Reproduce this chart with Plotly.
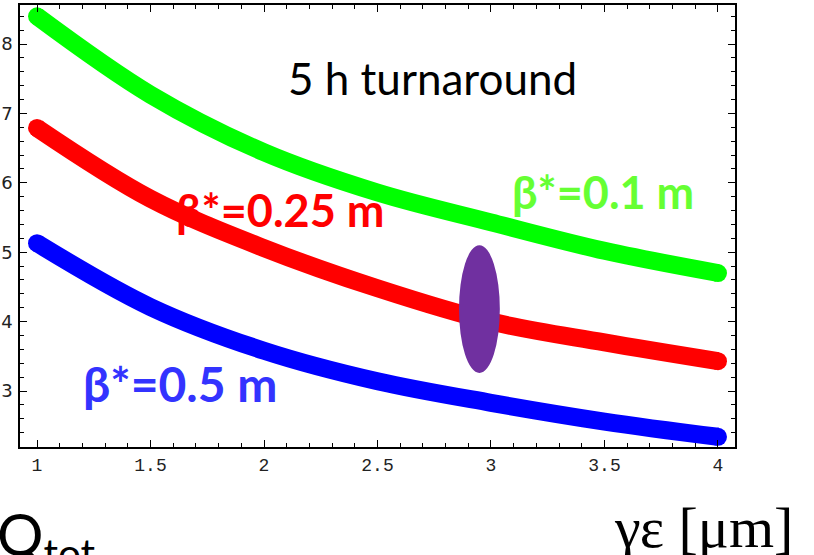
import plotly.graph_objects as go

# ---- data ----
x_vals = [1, 1.5, 2, 2.5, 3, 3.5, 4]
q_beta_01 = [8.40, 7.27, 6.44, 5.86, 5.43, 5.02, 4.70]
q_beta_025 = [6.79, 5.77, 5.06, 4.48, 4.00, 3.70, 3.43]
q_beta_05 = [5.13, 4.21, 3.58, 3.14, 2.83, 2.56, 2.34]

x_tick_vals = [1, 1.5, 2, 2.5, 3, 3.5, 4]
x_tick_text = ["1", "1.5", "2", "2.5", "3", "3.5", "4"]
y_tick_vals = [3, 4, 5, 6, 7, 8]
y_tick_text = ["3", "4", "5", "6", "7", "8"]

ellipse_center = (2.949, 4.18)
ellipse_half = (0.090, 0.92)

series = [
    (q_beta_01, "#00FF00"),
    (q_beta_025, "#FF0000"),
    (q_beta_05, "#0000FF"),
]

fig = go.Figure()
LW = 18
for ys, col in series:
    fig.add_trace(go.Scatter(x=x_vals, y=ys, mode="lines",
                             line=dict(color=col, width=LW, shape="spline"),
                             hoverinfo="skip", showlegend=False))
    fig.add_trace(go.Scatter(x=[x_vals[0], x_vals[-1]], y=[ys[0], ys[-1]], mode="markers",
                             marker=dict(color=col, size=LW, line=dict(width=0)),
                             hoverinfo="skip", showlegend=False))

fig.add_shape(type="circle", xref="x", yref="y",
              x0=ellipse_center[0] - ellipse_half[0], x1=ellipse_center[0] + ellipse_half[0],
              y0=ellipse_center[1] - ellipse_half[1], y1=ellipse_center[1] + ellipse_half[1],
              fillcolor="#7030A0", line=dict(width=0), layer="above")

W, H = 814, 555
L, R, T, B = 20, 735, 5, 447


def px(xp):
    return (xp - L) / (R - L)


def py(yp):
    return (B - yp) / (B - T)


ann = [
    dict(text="5 h turnaround", x=px(432), y=py(78), font=dict(family="Lato", size=44, color="black")),
    dict(text="<b>β*=0.25 m</b>", x=px(280), y=py(210), font=dict(family="Lato", size=45, color="#FF0000")),
    dict(text="<b>β*=0.1 m</b>", x=px(603), y=py(192), font=dict(family="Lato", size=45, color="#66FF33")),
    dict(text="<b>β*=0.5 m</b>", x=px(180), y=py(383), font=dict(family="Lato", size=48, color="#3333FF")),
    dict(text="γε [μm]", x=px(703), y=py(527), font=dict(family="Liberation Serif", size=58, color="black")),
]
for a in ann:
    fig.add_annotation(xref="paper", yref="paper", showarrow=False,
                       xanchor="center", yanchor="middle", **a)

fig.add_annotation(xref="paper", yref="paper", showarrow=False,
                   text="Q<sub>tot</sub>", x=px(-5), y=py(497), xanchor="left", yanchor="top",
                   font=dict(family="Lato", size=58, color="black"))

axis_common = dict(showgrid=False, zeroline=False, showline=True, linecolor="black",
                   linewidth=1.5, mirror="ticks", ticks="inside", ticklen=7,
                   tickcolor="black", tickwidth=1)

fig.update_xaxes(range=[0.925, 4.075], tickvals=x_tick_vals, ticktext=x_tick_text,
                 tickfont=dict(family="Liberation Mono", size=18, color="#222"),
                 minor=dict(dtick=0.1, ticks="inside", ticklen=4, tickcolor="black"),
                 ticklabelstandoff=1, **axis_common)
fig.update_yaxes(range=[2.193, 8.562], tickvals=y_tick_vals, ticktext=y_tick_text,
                 tickfont=dict(family="DejaVu Sans", size=18, color="#222"),
                 minor=dict(dtick=0.2, ticks="inside", ticklen=4, tickcolor="black"),
                 ticklabelstandoff=2, **axis_common)

fig.update_layout(width=W, height=H, margin=dict(l=L, r=W - R, t=T, b=H - B, autoexpand=False),
                  paper_bgcolor="white", plot_bgcolor="white", showlegend=False)

fig.write_html("out.html")
